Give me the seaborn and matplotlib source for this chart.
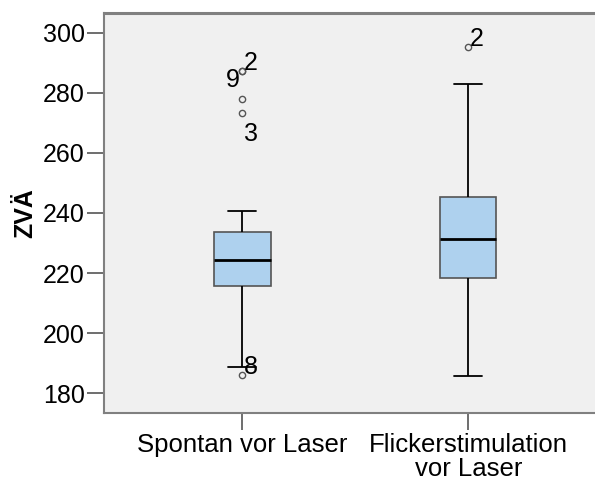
import matplotlib
matplotlib.use("Agg")
import matplotlib.pyplot as plt
import seaborn as sns
import pandas as pd

# Category names on the x axis
categories = ["Spontan vor Laser", "Flickerstimulation\nvor Laser"]

# ZVÄ measurements per condition
spontan_values = [186.2, 188.7, 203.0, 208.0, 211.0, 213.5, 215.6, 217.0, 219.0,
                  220.5, 222.0, 223.0, 224.2, 225.5, 227.0, 228.5, 230.0, 232.0,
                  233.8, 236.0, 240.7, 273.4, 277.9, 287.4, 287.4]
flicker_values = [185.8, 200.0, 207.0, 212.0, 216.0, 218.4, 221.0, 224.0, 227.0,
                  229.5, 231.4, 234.0, 237.0, 240.0, 243.0, 245.3, 250.0, 258.0,
                  266.0, 282.8, 295.4]

# Case numbers shown next to outlying points: (category index, value, label, side)
outlier_cat = [0, 0, 0, 0, 1]
outlier_val = [287.4, 287.4, 273.4, 186.2, 295.4]
outlier_lab = ["2", "9", "3", "8", "2"]
outlier_side = ["right", "left", "below", "right", "right"]

y_ticks = [180, 200, 220, 240, 260, 280, 300]

df = pd.DataFrame({
    "group": [categories[0]] * len(spontan_values) + [categories[1]] * len(flicker_values),
    "ZVÄ": spontan_values + flicker_values,
})

sns.set_style("white")
plt.rcParams["font.family"] = ["Liberation Sans", "DejaVu Sans"]

FS = 18

fig = plt.figure(figsize=(5.95, 4.84), dpi=100)
ax = fig.add_axes([0.1753, 0.1461, 0.8247, 0.8277])
ax.set_facecolor("#F0F0F0")

sns.boxplot(
    data=df, x="group", y="ZVÄ", order=categories, ax=ax,
    width=0.25, whis=1.5, color="#AED1EE", saturation=1,
    boxprops=dict(facecolor="#AED1EE", edgecolor="#555555", linewidth=1.2),
    medianprops=dict(color="black", linewidth=2.0),
    whiskerprops=dict(color="black", linewidth=1.3),
    capprops=dict(color="black", linewidth=1.3),
    flierprops=dict(marker="o", markersize=4.5, markerfacecolor="none",
                    markeredgecolor="#555555", markeredgewidth=1.0),
)

for c, v, lab, side in zip(outlier_cat, outlier_val, outlier_lab, outlier_side):
    if side == "right":
        off, ha, va = (1, -3), "left", "bottom"
    elif side == "left":
        off, ha, va = (-2, 2), "right", "top"
    else:
        off, ha, va = (1, -7), "left", "top"
    ax.annotate(lab, xy=(c, v), xytext=off, textcoords="offset points",
                ha=ha, va=va, fontsize=FS, color="black")

ax.set_xlim(-0.611, 1.561)
ax.set_ylim(173.3, 306.7)
ax.set_yticks(y_ticks)
ax.set_yticklabels([str(t) for t in y_ticks])
ax.set_xlabel("")
ax.set_ylabel("ZVÄ", fontsize=FS, fontweight="bold", labelpad=4, color="black")

ax.tick_params(axis="both", which="major", left=True, bottom=True,
               direction="out", length=12, width=1.2,
               color="#555555", labelsize=FS, labelcolor="black", pad=2)
for lbl in ax.get_xticklabels():
    lbl.set_linespacing(1.0)
    lbl.set_fontsize(18.5)

for name in ["left", "bottom", "top"]:
    ax.spines[name].set_visible(True)
    ax.spines[name].set_color("#808080")
    ax.spines[name].set_linewidth(1.5)
ax.spines["top"].set_linewidth(2.2)
ax.spines["right"].set_visible(False)

fig.savefig("out.png", dpi=100, facecolor="white")
